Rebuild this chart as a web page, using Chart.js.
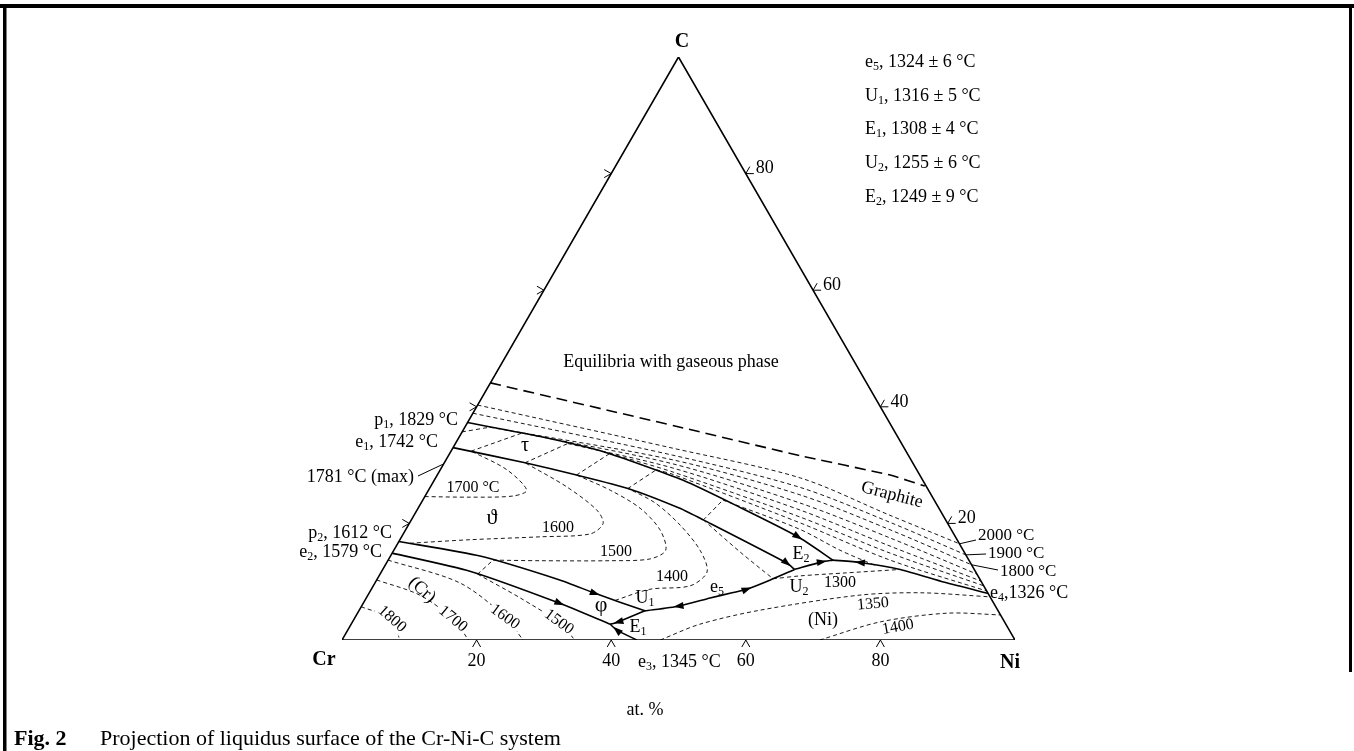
<!DOCTYPE html>
<html>
<head>
<meta charset="utf-8">
<script src="https://cdn.jsdelivr.net/npm/chart.js@4.4.0/dist/chart.umd.min.js"></script>
<style>
html, body { margin: 0; padding: 0; background: #fff; overflow: hidden; }
canvas { display: block; }
</style>
</head>
<body>
<canvas id="diagram" width="1354" height="751"></canvas>
<script>
// every point is a composition: [at.% Ni, at.% C], the rest is Cr
var tickValues = [20, 40, 60, 80];
var edges = [[0, 0], [100, 0], [0, 100], [0, 0]];
var gasBoundary = [[0, 44.1], [32.0, 36.5], [52.3, 31.6], [67.3, 28.3], [73.4, 26.4]];

// monovariant lines (solid)
var lineP1E2 = [[0, 37.3], [12.0, 34.9], [22.7, 32.3], [37.0, 27.4], [48.1, 22.6], [58.9, 17.7], [66.1, 13.7]];
var lineE1U2 = [[0, 33.0], [12.0, 30.4], [20.7, 28.3], [29.5, 26.0], [38.9, 22.6], [43.4, 20.6], [59.5, 13.2], [61.2, 12.1]];
var lineU2E2 = [[61.2, 12.1], [64.6, 13.4], [66.1, 13.7]];
var lineE4E2 = [[92.0, 8.0], [84.6, 9.9], [76.9, 12.1], [70.3, 13.3], [66.1, 13.7]];
var lineU1U2 = [[42.5, 5.0], [47.1, 5.8], [51.1, 7.2], [53.9, 8.1], [55.8, 8.7], [58.5, 10.3], [61.2, 12.1]];
var lineP2U1 = [[0, 16.9], [13.3, 14.4], [27.2, 10.3], [33.6, 8.0], [42.5, 5.0]];
var lineE2E1 = [[0, 14.9], [13.1, 11.8], [29.2, 6.3], [38.5, 2.7]];
var lineU1E1 = [[42.5, 5.0], [39.5, 3.1], [38.5, 2.7]];
var lineE3E1 = [[43.8, 0], [40.0, 1.7], [38.5, 2.7]];

// isotherms, graphite field
var graphite2000 = [[0, 40.3], [32.7, 32.9], [54.2, 27.8], [70.7, 21.4], [83.5, 16.5]];
var graphite1900 = [[0, 38.9], [33.3, 31.7], [54.9, 26.2], [71.3, 20.2], [85.4, 14.6]];
var graphite1800 = [[3.7, 36.5], [33.7, 30.9], [55.6, 24.9], [72.0, 18.9], [87.1, 12.9]];
var graphite1700 = [[9.0, 35.5], [34.1, 30.2], [56.3, 23.5], [72.7, 17.5], [88.7, 11.3]];
var graphite1600 = [[16.7, 33.7], [34.4, 29.5], [56.9, 22.3], [73.4, 16.1], [89.9, 10.1]];
var graphite1500 = [[23.8, 32.0], [34.8, 28.8], [57.5, 21.1], [74.0, 14.9], [90.7, 9.3]];
var graphite1400 = [[32.1, 29.2], [35.0, 28.4], [58.0, 20.1], [74.6, 13.7], [91.6, 8.4]];
var graphite1300 = [[44.6, 24.0], [58.5, 19.0], [66.3, 15.4], [72.8, 12.8]];

// isotherms, tau field
var tau1800 = [[0, 35.7], [3.7, 36.5]];
var tau1700 = [[3.0, 32.4], [9.0, 35.5]];
var tau1600 = [[12.0, 30.4], [16.7, 33.7]];
var tau1500 = [[20.7, 28.3], [23.8, 32.0]];
var tau1400 = [[29.5, 26.0], [32.1, 29.2]];
var tau1300 = [[43.4, 20.6], [44.6, 24.0]];

// isotherms, theta field
var theta1700 = [[0, 24.6], [6.8, 24.5], [13.1, 24.7], [14.6, 25.7], [9.9, 29.2], [3.0, 32.4]];
var theta1600 = [[1.8, 16.6], [10.4, 17.2], [20.6, 17.7], [27.8, 18.2], [28.8, 20.0], [26.7, 22.3], [20.2, 26.3], [12.0, 30.4]];
var theta1500 = [[15.6, 13.7], [22.6, 13.6], [33.0, 13.6], [38.8, 13.9], [40.4, 15.4], [37.8, 18.9], [33.0, 22.6], [27.0, 25.7], [20.7, 28.3]];
var theta1400 = [[37.2, 6.8], [41.4, 8.7], [47.1, 9.3], [48.4, 11.7], [45.5, 15.4], [40.4, 19.7], [34.8, 23.5], [29.5, 26.0]];
var theta1300 = [[43.4, 20.6], [51.6, 15.1], [58.8, 10.5]];
var thetaMax = [0, 30.2];

// isotherms, phi, (Cr) and (Ni) fields
var phi1500 = [[14.5, 11.3], [15.6, 13.7]];
var cr1800 = [[0, 5.7], [5.6, 3.6], [8.6, 0]];
var cr1700 = [[0, 10.3], [7.7, 7.7], [14.7, 3.6], [18.8, 0]];
var cr1600 = [[0, 13.7], [12.6, 9.8], [22.2, 4.0], [26.9, 0]];
var cr1500 = [[14.5, 11.3], [22.9, 7.2], [30.9, 2.9], [34.6, 0]];
var ni1300 = [[58.8, 10.5], [62.6, 11.0], [69.0, 11.5], [76.9, 12.1]];
var ni1350 = [[47.3, 0], [51.8, 2.7], [59.5, 5.1], [73.1, 7.7], [81.9, 8.1], [92.6, 7.4]];
var ni1400 = [[71.0, 0], [78.4, 3.1], [87.6, 4.6], [95.7, 4.3]];

// arrows on the monovariant lines: [where, pointing towards]
var arrowMarks = [
	[[58.9, 17.7], [66.1, 13.7]],
	[[70.3, 13.3], [66.1, 13.7]],
	[[64.6, 13.4], [66.1, 13.7]],
	[[59.5, 13.2], [61.2, 12.1]],
	[[55.8, 8.7], [58.5, 10.3]],
	[[47.1, 5.8], [42.5, 5.0]],
	[[33.6, 8.0], [42.5, 5.0]],
	[[29.2, 6.3], [38.5, 2.7]],
	[[39.5, 3.1], [38.5, 2.7]],
	[[40.0, 1.7], [38.5, 2.7]]
];

var SQ = Math.sqrt(3) / 2;
var FONT = '"Liberation Serif", "Times New Roman", serif';

function toXY(p) {
	return { x: p[0] + p[1] / 2, y: p[1] * SQ };
}

var datasets = [];
function addCurve(points, style) {
	datasets.push(Object.assign({
		data: points.map(toXY),
		showLine: true,
		pointRadius: 0,
		borderColor: '#000',
		borderWidth: 1,
		tension: 0.3
	}, style || {}));
}

var solid = { borderWidth: 1.6, tension: 0.2 };
var thin = { borderWidth: 0.9, borderDash: [4, 3] };

addCurve(edges, { borderWidth: 1.6, tension: 0 });
addCurve(gasBoundary, { borderWidth: 1.6, borderDash: [11, 6], tension: 0.1 });
[lineP1E2, lineE1U2, lineU2E2, lineE4E2, lineU1U2, lineP2U1, lineE2E1, lineU1E1, lineE3E1].forEach(function(l) {
	addCurve(l, solid);
});
[graphite2000, graphite1900, graphite1800, graphite1700, graphite1600, graphite1500, graphite1400, graphite1300,
 tau1800, tau1700, tau1600, tau1500, tau1400, tau1300,
 theta1700, theta1600, theta1500, theta1400, theta1300,
 phi1500, cr1800, cr1700, cr1600, cr1500, ni1300, ni1350, ni1400].forEach(function(l) {
	addCurve(l, thin);
});

function drawText(ctx, s, x, y, o) {
	o = o || {};
	var size = o.size || 18, weight = o.bold ? 'bold ' : '';
	var parts = [], re = /_(\w)/g, last = 0, m, w = 0;
	while ((m = re.exec(s))) {
		if (m.index > last) parts.push([s.slice(last, m.index), false]);
		parts.push([m[1], true]);
		last = re.lastIndex;
	}
	if (last < s.length) parts.push([s.slice(last), false]);
	parts.forEach(function(p) {
		ctx.font = weight + (p[1] ? Math.round(size * 0.65) : size) + 'px ' + FONT;
		p.push(ctx.measureText(p[0]).width);
		w += p[2];
	});
	ctx.save();
	ctx.translate(x, y);
	if (o.rot) ctx.rotate(o.rot * Math.PI / 180);
	var cx = o.align === 'right' ? -w : (o.align === 'left' ? 0 : -w / 2);
	if (o.bg) {
		ctx.fillStyle = '#fff';
		ctx.fillRect(cx - 2, -size * 0.5, w + 4, size);
	}
	ctx.fillStyle = '#000';
	ctx.textAlign = 'left';
	ctx.textBaseline = 'middle';
	parts.forEach(function(p) {
		ctx.font = weight + (p[1] ? Math.round(size * 0.65) : size) + 'px ' + FONT;
		ctx.fillText(p[0], cx, p[1] ? size * 0.28 : 0);
		cx += p[2];
	});
	ctx.restore();
}

var labels = [
	['e_5, 1324 ± 6 °C', 865, 62, { align: 'left' }],
	['U_1, 1316 ± 5 °C', 865, 96, { align: 'left' }],
	['E_1, 1308 ± 4 °C', 865, 129, { align: 'left' }],
	['U_2, 1255 ± 6 °C', 865, 163, { align: 'left' }],
	['E_2, 1249 ± 9 °C', 865, 197, { align: 'left' }],
	['C', 682, 42, { bold: true, size: 20 }],
	['Cr', 324, 660, { bold: true, size: 20 }],
	['Ni', 1010, 663, { bold: true, size: 20 }],
	['at. %', 645, 710, {}],
	['Equilibria with gaseous phase', 671, 362, {}],
	['Graphite', 892, 495, { rot: 14.7 }],
	['p_1, 1829 °C', 458, 420, { align: 'right' }],
	['e_1, 1742 °C', 438, 442, { align: 'right' }],
	['1781 °C (max)', 414, 477, { align: 'right' }],
	['p_2, 1612 °C', 392, 533, { align: 'right' }],
	['e_2, 1579 °C', 382, 552, { align: 'right' }],
	['τ', 525, 446, { size: 20 }],
	['ϑ', 492, 518, { size: 22 }],
	['φ', 601, 605, { size: 22 }],
	['1700 °C', 473, 488, { size: 16 }],
	['1600', 558, 528, { size: 16 }],
	['1500', 616, 552, { size: 16 }],
	['1400', 672, 577, { size: 16 }],
	['1300', 840, 583, { size: 16 }],
	['1350', 873, 604, { size: 16, rot: -5 }],
	['1400', 898, 627, { size: 16, rot: -10 }],
	['(Ni)', 823, 620, {}],
	['(Cr)', 422, 590, { rot: 42 }],
	['1800', 392, 619, { size: 16, rot: 42, bg: true }],
	['1700', 453, 619, { size: 16, rot: 40, bg: true }],
	['1600', 505, 617, { size: 16, rot: 36, bg: true }],
	['1500', 559, 622, { size: 16, rot: 36, bg: true }],
	['U_1', 645, 598, {}],
	['E_1', 638, 627, {}],
	['U_2', 799, 587, {}],
	['E_2', 801, 554, {}],
	['e_5', 717, 587, {}],
	['e_3, 1345 °C', 638, 662, { align: 'left' }],
	['2000 °C', 978, 536, { align: 'left', size: 17 }],
	['1900 °C', 988, 554, { align: 'left', size: 17 }],
	['1800 °C', 1000, 572, { align: 'left', size: 17 }],
	['e_4,1326 °C', 990, 593, { align: 'left' }]
];

var decorations = {
	id: 'decorations',
	afterDatasetsDraw: function(chart) {
		var ctx = chart.ctx, sx = chart.scales.x, sy = chart.scales.y;
		function px(p) {
			var q = toXY(p);
			return { x: sx.getPixelForValue(q.x), y: sy.getPixelForValue(q.y) };
		}
		function stroke(pts, w) {
			ctx.beginPath();
			ctx.moveTo(pts[0][0], pts[0][1]);
			for (var i = 1; i < pts.length; i++) ctx.lineTo(pts[i][0], pts[i][1]);
			ctx.lineWidth = w || 1;
			ctx.strokeStyle = '#000';
			ctx.setLineDash([]);
			ctx.stroke();
		}
		ctx.save();

		// arrowheads
		arrowMarks.forEach(function(a) {
			var p = px(a[0]), q = px(a[1]);
			var ang = Math.atan2(q.y - p.y, q.x - p.x);
			ctx.save();
			ctx.translate(p.x, p.y);
			ctx.rotate(ang);
			ctx.beginPath();
			ctx.moveTo(5, 0);
			ctx.lineTo(-5, -3.5);
			ctx.lineTo(-5, 3.5);
			ctx.closePath();
			ctx.fillStyle = '#000';
			ctx.fill();
			ctx.restore();
		});

		// composition ticks
		tickValues.forEach(function(v) {
			var b = px([v, 0]), r = px([100 - v, v]), l = px([0, v]);
			stroke([[b.x - 4, b.y + 7], [b.x, b.y], [b.x + 4, b.y + 7]]);
			stroke([[r.x + 8, r.y], [r.x, r.y], [r.x + 4, r.y - 7]]);
			stroke([[l.x - 7, l.y - 4], [l.x, l.y], [l.x - 7, l.y + 4]]);
			drawText(ctx, String(v), b.x, 661, {});
			drawText(ctx, String(v), r.x + 10, r.y - 5, { align: 'left' });
		});

		// leader lines
		var m = px(thetaMax);
		stroke([[418, 476], [m.x, m.y]]);
		var e2000 = px(graphite2000[graphite2000.length - 1]);
		var e1900 = px(graphite1900[graphite1900.length - 1]);
		var e1800 = px(graphite1800[graphite1800.length - 1]);
		stroke([[e2000.x, e2000.y], [976, 540]]);
		stroke([[e1900.x, e1900.y], [986, 554]]);
		stroke([[e1800.x, e1800.y], [998, 570]]);

		labels.forEach(function(t) {
			drawText(ctx, t[0], t[1], t[2], t[3]);
		});

		// frame and caption
		ctx.fillStyle = '#000';
		ctx.fillRect(0, 4, 1354, 4);
		ctx.fillRect(3, 4, 3.5, 747);
		ctx.fillRect(1349, 4, 3, 668);
		drawText(ctx, 'Fig. 2', 14, 739, { align: 'left', bold: true, size: 22 });
		drawText(ctx, 'Projection of liquidus surface of the Cr-Ni-C system', 100, 739, { align: 'left', size: 22 });
		ctx.restore();
	}
};

new Chart(document.getElementById('diagram').getContext('2d'), {
	type: 'scatter',
	data: { datasets: datasets },
	options: {
		responsive: false,
		animation: false,
		devicePixelRatio: 1,
		events: [],
		layout: { padding: { left: 342, right: 339, top: 57, bottom: 111 } },
		plugins: { legend: { display: false }, tooltip: { enabled: false } },
		scales: {
			x: { type: 'linear', min: 0, max: 100, display: false },
			y: { type: 'linear', min: 0, max: 100 * SQ, display: false }
		}
	},
	plugins: [decorations]
});
</script>
</body>
</html>
